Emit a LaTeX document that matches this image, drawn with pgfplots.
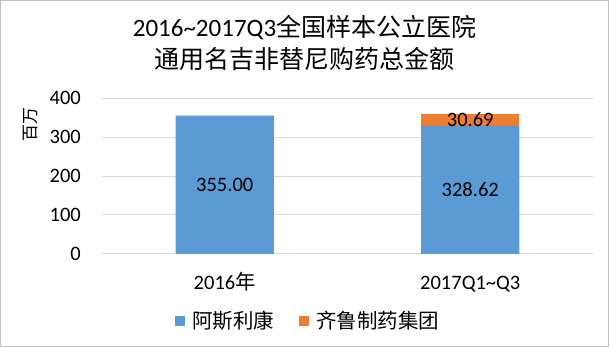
\documentclass[border=0pt]{standalone}
\usepackage{pgfplots}
\pgfplotsset{compat=1.18}
\usepackage{fontspec}
\setmainfont{Carlito}
\newfontfamily\cjk{Noto Sans CJK SC}
\definecolor{cblue}{HTML}{5B9BD5}
\definecolor{corange}{HTML}{ED7D31}
\definecolor{gridc}{HTML}{D9D9D9}
\definecolor{framec}{HTML}{BFBFBF}
\newcommand{\fs}{\fontsize{20.5bp}{24bp}\selectfont}
\begin{document}
\begin{tikzpicture}
\path[use as bounding box] (0bp,0bp) rectangle (609bp,347bp);
\draw[framec, line width=1bp] (0.5bp,0.5bp) rectangle (608.5bp,346.5bp);
\node[anchor=base, inner sep=0pt, font=\fontsize{25bp}{30bp}\selectfont] at (304.5bp,310bp) {2016\textasciitilde 2017Q3{\cjk 全国样本公立医院}};
\node[anchor=base, inner sep=0pt, font=\fontsize{25bp}{30bp}\selectfont] at (304.5bp,278bp) {\cjk 通用名吉非替尼购药总金额};
\node[rotate=90, inner sep=0pt, font=\fontsize{17bp}{20bp}\selectfont\cjk] at (31bp,222bp) {百万};
\begin{axis}[
  at={(102bp,93bp)}, anchor=south west,
  scale only axis, width=491bp, height=156bp,
  ybar stacked, bar width=0.4,
  xmin=-0.5, xmax=1.5, ymin=0, ymax=400,
  xtick={0,1},
  xticklabels={{2016{\cjk 年}}, {2017Q1\textasciitilde Q3}},
  ytick={0,100,200,300,400},
  /pgf/number format/assume math mode=true,
  axis line style={draw=none},
  major tick length=0pt,
  ymajorgrids, grid style={gridc, line width=1bp},
  ticklabel style={font=\fs, text=black},
  yticklabel style={anchor=east, inner sep=0pt, xshift=-21bp},
  xticklabel style={anchor=base, inner sep=0pt, yshift=-36bp},
  legend style={at={(axis description cs:0.4185,-0.4295)}, anchor=center,
    draw=none, fill=none, legend columns=2, font=\fs\cjk,
    nodes={inner sep=0pt, anchor=west},
    /tikz/every even column/.append style={column sep=25bp},
    /tikz/every odd column/.append style={column sep=7bp}},
  legend image code/.code={\fill[#1] (0bp,-5bp) rectangle (10bp,5bp);},
]
\addplot[fill=cblue, draw=none] coordinates {(0,355.00) (1,328.62)};
\addplot[fill=corange, draw=none] coordinates {(0,0) (1,30.69)};
\legend{阿斯利康, 齐鲁制药集团}
\coordinate (la) at (axis cs:0,177.5);
\coordinate (lb) at (axis cs:1,164.31);
\coordinate (lc) at (axis cs:1,343.97);
\end{axis}
\node[font=\fs, inner sep=0pt] at (la) {355.00};
\node[font=\fs, inner sep=0pt] at (lb) {328.62};
\node[font=\fs, inner sep=0pt] at (lc) {30.69};
\end{tikzpicture}
\end{document}
